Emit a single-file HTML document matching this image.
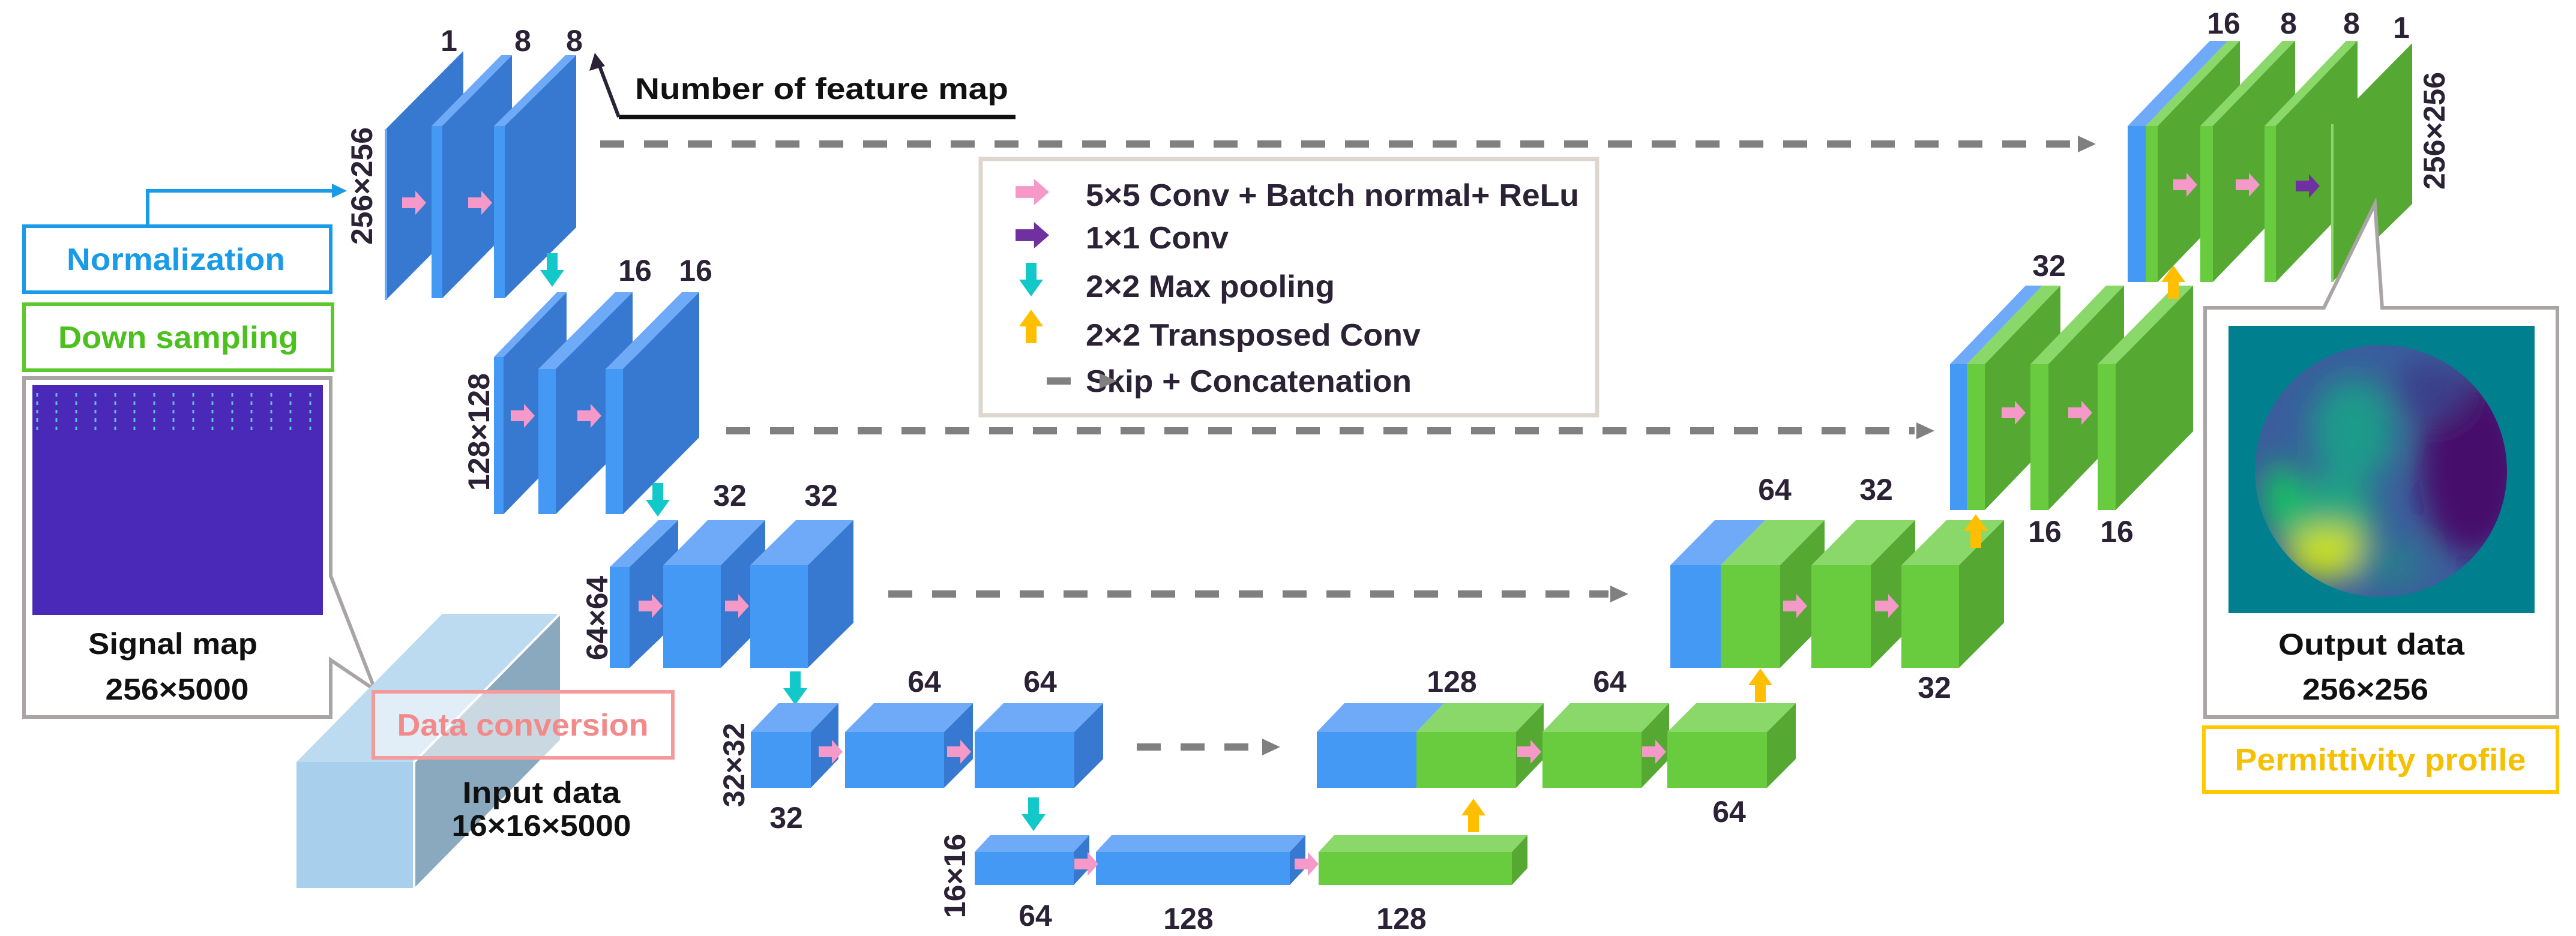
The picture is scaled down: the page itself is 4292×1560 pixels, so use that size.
<!DOCTYPE html>
<html><head><meta charset="utf-8"><style>
html,body{margin:0;padding:0;background:#fff;}
svg{display:block;}
text{font-family:"Liberation Sans",sans-serif;font-weight:bold;}
.n{fill:#2b2236;font-size:50px;text-anchor:middle;}
.bf{fill:#4499f5}.bt{fill:#6eaaf7}.bs{fill:#3779d0}
.gf{fill:#68cc3e}.gt{fill:#8bd86a}.gs{fill:#55a832}
.lg{fill:#2b2236;font-size:52px;}
</style></head><body>
<svg width="4292" height="1560" viewBox="0 0 4292 1560" xmlns="http://www.w3.org/2000/svg">
<defs>
<path id="pa" d="M-20,-9 H2 V-20 L20,0 L2,20 V9 H-20 Z" fill="#f59ac8"/>
<path id="pp" d="M-20,-9 H2 V-20 L20,0 L2,20 V9 H-20 Z" fill="#7030a0"/>
<path id="da" d="M-9,-28 H9 V0 H20 L0,28 L-20,0 H-9 Z" fill="#12c8c8"/>
<path id="ua" d="M-9,28 H9 V0 H20 L0,-28 L-20,0 H-9 Z" fill="#ffbf00"/>
<clipPath id="cc"><circle cx="3967" cy="785" r="210"/></clipPath>
<filter id="bl" x="-50%" y="-50%" width="200%" height="200%"><feGaussianBlur stdDeviation="25"/></filter>
</defs>

<!-- left panel boxes -->
<polyline points="246,377 246,318 555,318" fill="none" stroke="#1a9be8" stroke-width="6"/>
<polygon points="553,306 578,318 553,330" fill="#1a9be8"/>
<rect x="40" y="377" width="511" height="110" fill="#fff" stroke="#1a9be8" stroke-width="6"/>
<text x="293" y="450" font-size="52" fill="#1a9be8" text-anchor="middle" textLength="364" lengthAdjust="spacingAndGlyphs">Normalization</text>
<rect x="40" y="507" width="514" height="110" fill="#fff" stroke="#5cc82e" stroke-width="6"/>
<text x="297" y="580" font-size="52" fill="#4cc01e" text-anchor="middle" textLength="400" lengthAdjust="spacingAndGlyphs">Down sampling</text>
<path d="M40,630 H551 V960 L625,1150 L551,1100 V1195 H40 Z" fill="#fff" stroke="#aaa5a5" stroke-width="6"/>
<rect x="54" y="642" width="484" height="383" fill="#4a28b8"/>
<g stroke="#5fc0d8" stroke-width="3" stroke-dasharray="6 8">
<line x1="62" y1="655" x2="62" y2="720"/><line x1="94" y1="655" x2="94" y2="720"/><line x1="127" y1="655" x2="127" y2="720"/><line x1="159" y1="655" x2="159" y2="720"/><line x1="192" y1="655" x2="192" y2="720"/><line x1="224" y1="655" x2="224" y2="720"/><line x1="257" y1="655" x2="257" y2="720"/><line x1="289" y1="655" x2="289" y2="720"/><line x1="322" y1="655" x2="322" y2="720"/><line x1="354" y1="655" x2="354" y2="720"/><line x1="387" y1="655" x2="387" y2="720"/><line x1="419" y1="655" x2="419" y2="720"/><line x1="452" y1="655" x2="452" y2="720"/><line x1="484" y1="655" x2="484" y2="720"/><line x1="517" y1="655" x2="517" y2="720"/></g>
<text x="288" y="1090" font-size="50" fill="#111" text-anchor="middle" textLength="282" lengthAdjust="spacingAndGlyphs">Signal map</text>
<text x="295" y="1166" font-size="50" fill="#111" text-anchor="middle" textLength="239" lengthAdjust="spacingAndGlyphs">256×5000</text>

<!-- input data box -->
<polygon points="494,1270 690,1270 933,1023 737,1023" fill="#bcdaf0"/>
<polygon points="690,1270 933,1023 933,1233 690,1480" fill="#8aa8be"/>
<rect x="494" y="1270" width="196" height="210" fill="#a8d0ec"/>
<polyline points="690,1480 690,1270 933,1023" fill="none" stroke="#fff" stroke-width="4"/>
<rect x="622" y="1153" width="499" height="110" fill="#fff" fill-opacity="0.55" stroke="#f59a9a" stroke-width="6"/>
<text x="871" y="1226" font-size="52" fill="#f28a8a" text-anchor="middle" textLength="419" lengthAdjust="spacingAndGlyphs">Data conversion</text>
<text x="902" y="1338" font-size="50" fill="#111" text-anchor="middle" textLength="263" lengthAdjust="spacingAndGlyphs">Input data</text>
<text x="902" y="1393" font-size="50" fill="#111" text-anchor="middle" textLength="299" lengthAdjust="spacingAndGlyphs">16×16×5000</text>

<!-- Number of feature map -->
<polyline points="1031,195 1692,195" fill="none" stroke="#111" stroke-width="7"/>
<polyline points="1031,195 997,105" fill="none" stroke="#2b2236" stroke-width="6"/>
<polygon points="991,88 982,118 1008,110" fill="#2b2236"/>
<text x="1058" y="165" font-size="50" fill="#111" textLength="622" lengthAdjust="spacingAndGlyphs">Number of feature map</text>

<!-- skip connections -->
<g stroke="#808080" stroke-width="12" stroke-dasharray="40 33" fill="none">
<line x1="1000" y1="240" x2="3455" y2="240"/>
<line x1="1210" y1="718" x2="3190" y2="718"/>
<line x1="1480" y1="990" x2="2680" y2="990"/>
<line x1="1894" y1="1245" x2="2100" y2="1245"/>
</g>
<g fill="#808080">
<polygon points="3462,226 3492,240 3462,254"/>
<polygon points="3193,704 3223,718 3193,732"/>
<polygon points="2683,976 2713,990 2683,1004"/>
<polygon points="2103,1231 2133,1245 2103,1259"/>
</g>

<!-- Encoder L1 -->
<polygon class="bs" points="643,215 772,85 772,370 643,500"/>
<line x1="643" y1="215" x2="643" y2="500" stroke="#6eaaf7" stroke-width="4"/>
<polygon class="bt" points="719,210 737,210 853,92 835,92"/><polygon class="bs" points="737,210 853,92 853,379 737,497"/><rect class="bf" x="719" y="210" width="18" height="287"/>
<polygon class="bt" points="823,210 841,210 960,92 942,92"/><polygon class="bs" points="841,210 960,92 960,379 841,497"/><rect class="bf" x="823" y="210" width="18" height="287"/>
<use href="#pa" x="690" y="338"/><use href="#pa" x="800" y="338"/>
<text class="n" x="748" y="85">1</text><text class="n" x="871" y="85">8</text><text class="n" x="957" y="85">8</text>
<text class="n" transform="translate(620,310) rotate(-90)">256×256</text>
<use href="#da" x="920" y="450"/>

<!-- Encoder L2 -->
<polygon class="bt" points="823,595 839,595 944,487 928,487"/><polygon class="bs" points="839,595 944,487 944,749 839,857"/><rect class="bf" x="823" y="595" width="16" height="262"/>
<polygon class="bt" points="897,615 926,615 1054,487 1025,487"/><polygon class="bs" points="926,615 1054,487 1054,729 926,857"/><rect class="bf" x="897" y="615" width="29" height="242"/>
<polygon class="bt" points="1009,615 1038,615 1165,487 1136,487"/><polygon class="bs" points="1038,615 1165,487 1165,729 1038,857"/><rect class="bf" x="1009" y="615" width="29" height="242"/>
<use href="#pa" x="871" y="693"/><use href="#pa" x="982" y="693"/>
<text class="n" x="1058" y="468">16</text><text class="n" x="1159" y="468">16</text>
<text class="n" transform="translate(815,720) rotate(-90)">128×128</text>
<use href="#da" x="1096" y="833"/>

<!-- Encoder L3 -->
<polygon class="bt" points="1016,945 1049,945 1130,867 1097,867"/><polygon class="bs" points="1049,945 1130,867 1130,1035 1049,1113"/><rect class="bf" x="1016" y="945" width="33" height="168"/>
<polygon class="bt" points="1105,942 1201,942 1275,867 1179,867"/><polygon class="bs" points="1201,942 1275,867 1275,1038 1201,1113"/><rect class="bf" x="1105" y="942" width="96" height="171"/>
<polygon class="bt" points="1250,942 1346,942 1422,867 1326,867"/><polygon class="bs" points="1346,942 1422,867 1422,1038 1346,1113"/><rect class="bf" x="1250" y="942" width="96" height="171"/>
<use href="#pa" x="1084" y="1010"/><use href="#pa" x="1228" y="1010"/>
<text class="n" x="1216" y="843">32</text><text class="n" x="1368" y="843">32</text>
<text class="n" transform="translate(1012,1030) rotate(-90)">64×64</text>
<use href="#da" x="1325" y="1147"/>

<!-- Encoder L4 -->
<polygon class="bt" points="1251,1220 1351,1220 1397,1172 1297,1172"/><polygon class="bs" points="1351,1220 1397,1172 1397,1265 1351,1313"/><rect class="bf" x="1251" y="1220" width="100" height="93"/>
<polygon class="bt" points="1408,1220 1573,1220 1621,1172 1456,1172"/><polygon class="bs" points="1573,1220 1621,1172 1621,1265 1573,1313"/><rect class="bf" x="1408" y="1220" width="165" height="93"/>
<polygon class="bt" points="1624,1220 1790,1220 1838,1172 1672,1172"/><polygon class="bs" points="1790,1220 1838,1172 1838,1265 1790,1313"/><rect class="bf" x="1624" y="1220" width="166" height="93"/>
<use href="#pa" x="1384" y="1253"/><use href="#pa" x="1598" y="1253"/>
<text class="n" x="1540" y="1153">64</text><text class="n" x="1733" y="1153">64</text><text class="n" x="1310" y="1380">32</text>
<text class="n" transform="translate(1240,1275) rotate(-90)">32×32</text>
<use href="#da" x="1722" y="1357"/>

<!-- L5 -->
<polygon class="bt" points="1624,1420 1789,1420 1815,1392 1650,1392"/><polygon class="bs" points="1789,1420 1815,1392 1815,1447 1789,1475"/><rect class="bf" x="1624" y="1420" width="165" height="55"/>
<polygon class="bt" points="1826,1420 2149,1420 2175,1392 1852,1392"/><polygon class="bs" points="2149,1420 2175,1392 2175,1447 2149,1475"/><rect class="bf" x="1826" y="1420" width="323" height="55"/>
<polygon class="gt" points="2197,1420 2519,1420 2545,1392 2223,1392"/><polygon class="gs" points="2519,1420 2545,1392 2545,1447 2519,1475"/><rect class="gf" x="2197" y="1420" width="322" height="55"/>
<use href="#pa" x="1810" y="1440"/><use href="#pa" x="2177" y="1440"/>
<text class="n" x="1725" y="1543">64</text><text class="n" x="1980" y="1548">128</text><text class="n" x="2335" y="1548">128</text>
<text class="n" transform="translate(1608,1460) rotate(-90)">16×16</text>
<use href="#ua" x="2455" y="1359"/>

<!-- Decoder L4 -->
<polygon class="bt" points="2194,1220 2360,1220 2406,1172 2240,1172"/><polygon class="gt" points="2360,1220 2526,1220 2572,1172 2406,1172"/><polygon class="gs" points="2526,1220 2572,1172 2572,1265 2526,1313"/><rect class="bf" x="2194" y="1220" width="166" height="93"/><rect class="gf" x="2360" y="1220" width="166" height="93"/>
<polygon class="gt" points="2570,1220 2735,1220 2781,1172 2616,1172"/><polygon class="gs" points="2735,1220 2781,1172 2781,1265 2735,1313"/><rect class="gf" x="2570" y="1220" width="165" height="93"/>
<polygon class="gt" points="2778,1220 2944,1220 2992,1172 2826,1172"/><polygon class="gs" points="2944,1220 2992,1172 2992,1265 2944,1313"/><rect class="gf" x="2778" y="1220" width="166" height="93"/>
<use href="#pa" x="2548" y="1253"/><use href="#pa" x="2756" y="1253"/>
<text class="n" x="2419" y="1153">128</text><text class="n" x="2682" y="1153">64</text><text class="n" x="2881" y="1370">64</text>
<use href="#ua" x="2933" y="1142"/>

<!-- Decoder L3 -->
<polygon class="bt" points="2783,942 2867,942 2941,867 2857,867"/><polygon class="gt" points="2867,942 2966,942 3040,867 2941,867"/><polygon class="gs" points="2966,942 3040,867 3040,1038 2966,1113"/><rect class="bf" x="2783" y="942" width="84" height="171"/><rect class="gf" x="2867" y="942" width="99" height="171"/>
<polygon class="gt" points="3018,942 3117,942 3191,867 3092,867"/><polygon class="gs" points="3117,942 3191,867 3191,1038 3117,1113"/><rect class="gf" x="3018" y="942" width="99" height="171"/>
<polygon class="gt" points="3168,942 3264,942 3339,867 3243,867"/><polygon class="gs" points="3264,942 3339,867 3339,1038 3264,1113"/><rect class="gf" x="3168" y="942" width="96" height="171"/>
<use href="#pa" x="2991" y="1010"/><use href="#pa" x="3144" y="1010"/>
<text class="n" x="2957" y="833">64</text><text class="n" x="3126" y="833">32</text><text class="n" x="3223" y="1163">32</text>
<use href="#ua" x="3292" y="885"/>

<!-- Decoder L2 -->
<polygon class="bt" points="3249,607 3277,607 3403,476 3375,476"/><polygon class="gt" points="3277,607 3307,607 3433,476 3403,476"/><polygon class="gs" points="3307,607 3433,476 3433,719 3307,850"/><rect class="bf" x="3249" y="607" width="28" height="243"/><rect class="gf" x="3277" y="607" width="30" height="243"/>
<polygon class="gt" points="3383,607 3413,607 3539,476 3509,476"/><polygon class="gs" points="3413,607 3539,476 3539,719 3413,850"/><rect class="gf" x="3383" y="607" width="30" height="243"/>
<polygon class="gt" points="3495,607 3525,607 3654,476 3624,476"/><polygon class="gs" points="3525,607 3654,476 3654,719 3525,850"/><rect class="gf" x="3495" y="607" width="30" height="243"/>
<use href="#pa" x="3355" y="688"/><use href="#pa" x="3466" y="688"/>
<text class="n" x="3414" y="460">32</text><text class="n" x="3407" y="903">16</text><text class="n" x="3527" y="903">16</text>
<use href="#ua" x="3621" y="470"/>

<!-- Decoder L1 -->
<polygon class="bt" points="3545,210 3575,210 3712,68 3682,68"/><polygon class="gt" points="3575,210 3595,210 3732,68 3712,68"/><polygon class="gs" points="3595,210 3732,68 3732,328 3595,470"/><rect class="bf" x="3545" y="210" width="30" height="260"/><rect class="gf" x="3575" y="210" width="20" height="260"/>
<polygon class="gt" points="3666,210 3687,210 3824,68 3803,68"/><polygon class="gs" points="3687,210 3824,68 3824,328 3687,470"/><rect class="gf" x="3666" y="210" width="21" height="260"/>
<polygon class="gt" points="3773,210 3792,210 3928,68 3909,68"/><polygon class="gs" points="3792,210 3928,68 3928,328 3792,470"/><rect class="gf" x="3773" y="210" width="19" height="260"/>
<polygon class="gs" points="3886,207 4019,72 4019,340 3886,470"/>
<line x1="3886" y1="207" x2="3886" y2="470" stroke="#8bd86a" stroke-width="4"/>
<use href="#pa" x="3641" y="308"/><use href="#pa" x="3745" y="308"/><use href="#pp" x="3845" y="310"/>
<text class="n" x="3705" y="56">16</text><text class="n" x="3813" y="56">8</text><text class="n" x="3918" y="56">8</text><text class="n" x="4001" y="63">1</text>
<text class="n" transform="translate(4073,218) rotate(-90)">256×256</text>

<!-- Output box -->
<path d="M3674,513 H3872 L3957,340 L3969,513 H4261 V1195 H3674 Z" fill="#fff" stroke="#aaa5a5" stroke-width="6"/>
<rect x="3713" y="543" width="510" height="479" fill="#00808f"/>
<g clip-path="url(#cc)">
<circle cx="3967" cy="785" r="210" fill="#3a5e9c"/>
<g filter="url(#bl)">
<ellipse cx="4120" cy="780" rx="90" ry="150" fill="#46106a"/>
<ellipse cx="4050" cy="650" rx="60" ry="50" fill="#3b3f8a"/>
<ellipse cx="3920" cy="720" rx="70" ry="90" fill="#1f9a8a"/>
<ellipse cx="3870" cy="860" rx="90" ry="60" fill="#20a880"/>
<ellipse cx="3880" cy="920" rx="70" ry="45" fill="#c8df20"/>
<ellipse cx="3800" cy="830" rx="30" ry="60" fill="#18c060"/>
<ellipse cx="3980" cy="940" rx="60" ry="40" fill="#2a7a8e"/>
</g>
</g>
<text x="3951" y="1091" font-size="50" fill="#111" text-anchor="middle" textLength="310" lengthAdjust="spacingAndGlyphs">Output data</text>
<text x="3941" y="1166" font-size="50" fill="#111" text-anchor="middle" textLength="210" lengthAdjust="spacingAndGlyphs">256×256</text>
<rect x="3672" y="1212" width="589" height="108" fill="#fff" stroke="#ffc800" stroke-width="6"/>
<text x="3966" y="1284" font-size="52" fill="#f5c000" text-anchor="middle" textLength="485" lengthAdjust="spacingAndGlyphs">Permittivity profile</text>

<!-- Legend -->
<rect x="1634" y="265" width="1027" height="427" fill="#fff" stroke="#ddd6cf" stroke-width="7"/>
<use href="#pa" transform="translate(1720,320) scale(1.4,1.1)"/>
<use href="#pp" transform="translate(1720,392) scale(1.4,1.1)"/>
<use href="#da" x="1718" y="466"/>
<use href="#ua" x="1718" y="544"/>
<line x1="1744" y1="635" x2="1784" y2="635" stroke="#808080" stroke-width="12"/>
<text class="lg" x="1809" y="343" textLength="822" lengthAdjust="spacingAndGlyphs">5×5 Conv + Batch normal+ ReLu</text>
<text class="lg" x="1809" y="414" textLength="238" lengthAdjust="spacingAndGlyphs">1×1 Conv</text>
<text class="lg" x="1809" y="495" textLength="415" lengthAdjust="spacingAndGlyphs">2×2 Max pooling</text>
<text class="lg" x="1809" y="576" textLength="558" lengthAdjust="spacingAndGlyphs">2×2 Transposed Conv</text>
<text class="lg" x="1809" y="653" textLength="543" lengthAdjust="spacingAndGlyphs">Skip + Concatenation</text>
<polygon points="1832,622 1861,635 1832,648" fill="#808080"/>
</svg>
</body></html>
